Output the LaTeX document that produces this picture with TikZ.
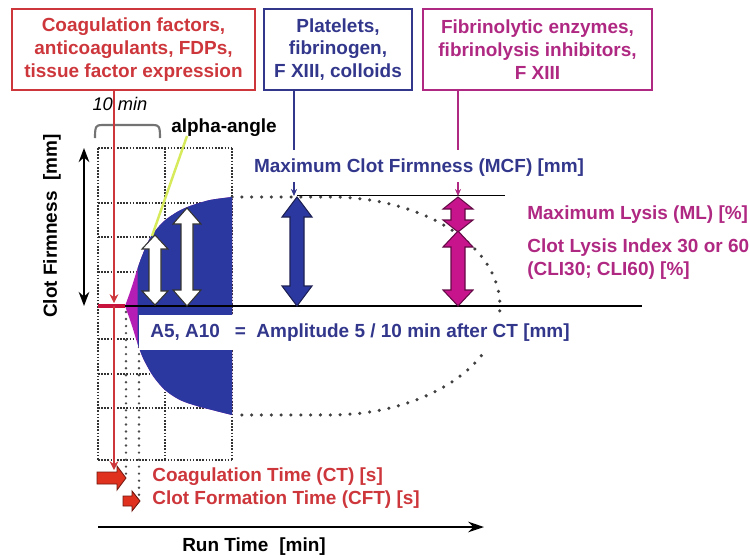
\documentclass[tikz,border=0pt]{standalone}
\usepackage{fontspec}
\setmainfont{Liberation Sans}
\usetikzlibrary{arrows.meta}
\definecolor{cred}{HTML}{CD373C}
\definecolor{cblue}{HTML}{32378C}
\definecolor{cmag}{HTML}{AF2882}
\definecolor{fblue}{HTML}{2A38A0}
\definecolor{fmag}{HTML}{C8148C}
\definecolor{fpurp}{HTML}{B41EB4}
\definecolor{fred}{HTML}{E0301E}
\definecolor{cyel}{HTML}{D6EA5A}
\definecolor{ccrim}{HTML}{C8143C}
\newcommand\dblArrowPath[6]{%
 (#1,#2) -- (#1+#5,#2+#6) -- (#1+#4,#2+#6) -- (#1+#4,#3-#6) -- (#1+#5,#3-#6) -- (#1,#3) -- (#1-#5,#3-#6) -- (#1-#4,#3-#6) -- (#1-#4,#2+#6) -- (#1-#5,#2+#6) -- cycle}
\newcommand\clotPath{(125,306) -- plot[smooth] coordinates {(125,306) (129,295) (133,283) (137,270) (142,256) (150,238) (163,222) (177,212) (190,206) (210,200) (232,197)} -- (232,415) -- plot[smooth] coordinates {(232,415) (220,412) (197,406) (180,400) (165,390) (153,376) (143,358) (137,342) (133,329) (129,317) (125,306)} -- cycle}
\begin{document}
\begin{tikzpicture}[x=0.02cm,y=-0.02cm,
  txt/.style={font=\fontsize{10.8}{13}\selectfont\bfseries, inner sep=0pt},
  boxst/.style={txt, draw, line width=1.1pt, align=center, minimum height=1.62cm},
  gridline/.style={black!80, line width=0.95pt, dash pattern=on 0.9pt off 0.9pt},
  bigdots/.style={black!75, line width=2pt, line cap=round, dash pattern=on 0pt off 5.6pt},
  markdots/.style={black!70, line width=1.5pt, line cap=round, dash pattern=on 0pt off 4pt},
  whitearrow/.style={fill=white, draw=black!80, line width=0.6pt},
  bluearrow/.style={fill=fblue, draw=cblue!60!black, line width=0.6pt},
  magarrow/.style={fill=fmag, draw=fmag!50!black, line width=0.6pt},
  redarrow/.style={fill=fred, draw=fred!50!black, line width=0.5pt},
  tiny/.style={-{Stealth[length=4pt,width=3.5pt]}, line width=0.7pt}]
\useasboundingbox (0,0) rectangle (750,559);

% top boxes
\node[boxst, draw=cred, text=cred, minimum width=4.86cm] (rbox) at (133.5,49.5)
  {Coagulation factors,\\anticoagulants, FDPs,\\tissue factor expression};
\node[boxst, draw=cblue, text=cblue, minimum width=2.96cm] (bbox) at (338,49.5)
  {Platelets,\\fibrinogen,\\F XIII, colloids};
\node[boxst, draw=cmag, text=cmag, minimum width=4.58cm] (mbox) at (537.5,49.5)
  {Fibrinolytic enzymes,\\fibrinolysis inhibitors,\\F XIII};

% grid
\foreach \gx in {98,165,232} \draw[gridline] (\gx,148) -- (\gx,460);
\foreach \gy in {148,203,237,272,306,339,374,408,460} \draw[gridline] (98,\gy) -- (232,\gy);

% CT / CFT dotted markers
\draw[markdots] (126,312) -- (126,476);
\draw[markdots] (139,312) -- (139,496);

% dotted clot envelope
\draw[bigdots] (232,197) -- (330,197) arc[start angle=90, end angle=-90, x radius=3.4cm, y radius=2.18cm] -- (232,415);

% clot shape
\fill[fpurp] \clotPath;
\begin{scope}
  \clip (137.5,150) rectangle (232,450);
  \fill[fblue] \clotPath;
\end{scope}

% amplitude label
\node[txt, text=cblue, fill=white, anchor=west, inner xsep=0.22cm, minimum height=0.7cm] (alab) at (139,332.5)
  {A5, A10\hspace{8.5pt}=\hspace{6pt}Amplitude 5 / 10 min after CT [mm]};

% baselines
\draw[ccrim, line width=2.2pt] (98,306) -- (125,306);
\draw[black, line width=1.1pt] (125,306) -- (642,306);
\draw[black, line width=0.9pt] (297,195.5) -- (505,195.5);

% alpha line
\draw[cyel, line width=1.4pt] (152,236) -- (187,136);

% amplitude arrows
\filldraw[whitearrow] \dblArrowPath{155}{235}{305}{6}{13}{14};
\filldraw[whitearrow] \dblArrowPath{187}{208}{306}{6}{14}{16};
\filldraw[bluearrow] \dblArrowPath{297}{197}{306}{7}{15}{20};
\filldraw[magarrow] \dblArrowPath{458}{197}{232}{7}{15}{12};
\filldraw[magarrow] \dblArrowPath{458}{231}{306}{7}{15}{16};

% labels
\node[txt] (alpha) at (224,128) {alpha-angle};
\node[font=\fontsize{10.4}{12}\selectfont\itshape, inner sep=0pt] (tenmin) at (120,104) {10 min};
\draw[black!55, line width=1.2pt] (95,138) .. controls (95,126) and (96,125) .. (102,125) -- (153,125) .. controls (159,125) and (160,126) .. (160,138);
\node[txt, text=cblue] (mcf) at (419,168) {Maximum Clot Firmness (MCF) [mm]};
\node[txt, text=cmag, anchor=west] (ml) at (527,215) {Maximum Lysis (ML) [\%]};
\node[txt, text=cmag, anchor=west, align=left] (cli) at (527,259) {Clot Lysis Index 30 or 60\\(CLI30; CLI60) [\%]};
\node[txt, rotate=90] (yax) at (52,226) {Clot Firmness\hspace{0.3em} [mm]};
\node[txt] (xax) at (254,547) {Run Time\hspace{0.3em} [min]};
\node[txt, text=cred, anchor=west] (ct) at (152,477) {Coagulation Time (CT) [s]};
\node[txt, text=cred, anchor=west] (cft) at (152,500) {Clot Formation Time (CFT) [s]};

% connectors from boxes
\coordinate (ctx) at (114,303);
\draw[cred, line width=0.8pt, -{Stealth[length=5pt,width=5pt]}] (rbox.south -| ctx) -- (ctx);
\draw[cred, line width=0.8pt, -{Stealth[length=5pt,width=5pt]}] (114,306) -- (114,470);
\coordinate (bx) at (294,150);
\draw[cblue, line width=0.8pt] (bbox.south -| bx) -- (bx);
\draw[cblue, tiny] (294,182) -- (294,196);
\coordinate (mx) at (458,150);
\draw[cmag, line width=0.8pt] (mbox.south -| mx) -- (mx);
\draw[cmag, tiny] (458,182) -- (458,196);

% red block arrows
\filldraw[redarrow] (97,472) -- (117,472) -- (117,466) -- (126,478) -- (117,490) -- (117,484) -- (97,484) -- cycle;
\filldraw[redarrow] (123,496) -- (132,496) -- (132,491) -- (140,501) -- (132,511) -- (132,506) -- (123,506) -- cycle;

% axes
\draw[black, line width=1.3pt, {Stealth[length=8pt,width=6pt]}-{Stealth[length=8pt,width=6pt]}] (84,148) -- (84,306);
\draw[black, line width=1.5pt, -{Stealth[length=9pt,width=6pt]}] (98,527) -- (484,527);
\end{tikzpicture}
\end{document}
